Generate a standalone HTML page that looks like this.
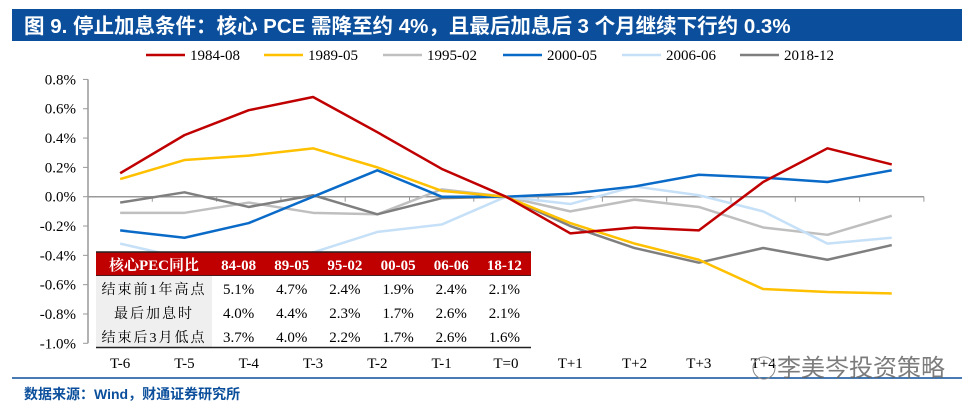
<!DOCTYPE html>
<html><head><meta charset="utf-8"><style>
body{margin:0;background:#fff;width:974px;height:411px;overflow:hidden}
svg{display:block}
</style></head><body>
<svg id="chart" width="974" height="411" font-family="'Liberation Serif','Noto Serif CJK SC',serif">
<rect x="12" y="9" width="950" height="32" fill="#0b4f9c"/>
<text x="24" y="33" fill="#fff" font-size="20.5" font-weight="bold" font-family="'Liberation Sans','Noto Sans CJK SC',sans-serif">图 9. 停止加息条件：核心 PCE 需降至约 4%，且最后加息后 3 个月继续下行约 0.3%</text>
<g id="legend"></g>
<g id="axes"></g>
<g id="series"></g>
<g id="table"></g>
<line x1="12" y1="378" x2="962" y2="378" stroke="#0b4f9c" stroke-width="1.5"/>
<text x="24" y="399" fill="#0b4f9c" font-size="14" font-weight="bold" font-family="'Liberation Sans','Noto Sans CJK SC',sans-serif">数据来源：Wind，财通证券研究所</text>
<text x="777" y="376" fill="#666" opacity="0.85" font-size="24" font-family="'Liberation Sans','Noto Sans CJK SC',sans-serif">李美岑投资策略</text>
<circle cx="764" cy="368" r="11" fill="none" stroke="#888" stroke-width="1"/>
</svg>
<script>
const categories=["T-6","T-5","T-4","T-3","T-2","T-1","T=0","T+1","T+2","T+3","T+4","T+5","T+6"];
const tickLabelsShown=["T-6","T-5","T-4","T-3","T-2","T-1","T=0","T+1","T+2","T+3","T+4"];
const yTicks=[0.8,0.6,0.4,0.2,0,-0.2,-0.4,-0.6,-0.8,-1.0];
const seriesNames=["1984-08","1989-05","1995-02","2000-05","2006-06","2018-12"];
const seriesColors=["#c00000","#ffc000","#bfbfbf","#0a6ac8","#c6e0f8","#7f7f7f"];
const s1984=[0.16,0.42,0.59,0.68,0.44,0.19,0,-0.25,-0.21,-0.23,0.10,0.33,0.22];
const s1989=[0.12,0.25,0.28,0.33,0.20,0.04,0,-0.18,-0.32,-0.43,-0.63,-0.65,-0.66];
const s1995=[-0.11,-0.11,-0.04,-0.11,-0.12,0.05,0,-0.10,-0.02,-0.07,-0.21,-0.26,-0.13];
const s2000=[-0.23,-0.28,-0.18,0.0,0.18,0,0,0.02,0.07,0.15,0.13,0.10,0.18];
const s2006=[-0.32,-0.42,-0.45,-0.38,-0.24,-0.19,0,-0.05,0.07,0.01,-0.10,-0.32,-0.28];
const s2018=[-0.04,0.03,-0.07,0.01,-0.12,-0.01,0,-0.20,-0.35,-0.45,-0.35,-0.43,-0.33];
const allSeries=[s1995,s2006,s2018,s2000,s1989,s1984];
const allOrder=[2,4,5,3,1,0];
const tableHeader=["核心PEC同比","84-08","89-05","95-02","00-05","06-06","18-12"];
const rowLabels=["结束前1年高点","最后加息时","结束后3月低点"];
const rowPeak=["5.1%","4.7%","2.4%","1.9%","2.4%","2.1%"];
const rowLast=["4.0%","4.4%","2.3%","1.7%","2.6%","2.1%"];
const rowLow=["3.7%","4.0%","2.2%","1.7%","2.6%","1.6%"];

const NS="http://www.w3.org/2000/svg";
const X0=88,SLOT=64.3,Y0=196.7,YS=146.6;
const xs=i=>X0+SLOT*(i+0.5);
const ys=v=>Y0-v*YS;
function mk(tag,attrs,parent,txt){const e=document.createElementNS(NS,tag);for(const k in attrs)e.setAttribute(k,attrs[k]);if(txt!==undefined)e.textContent=txt;parent.appendChild(e);return e;}
const axes=document.getElementById('axes');
let el=mk('line',{x1:X0,y1:ys(0.8),x2:X0,y2:ys(-1.0),stroke:'#999','stroke-width':1.5},axes);


yTicks.forEach(v=>{
  const t=mk('line',{x1:X0-5,y1:ys(v),x2:X0,y2:ys(v),stroke:'#999'},axes);
  
  
  const l=mk('text',{x:X0-12,y:ys(v)+5,'text-anchor':'end','font-size':15},axes,v.toFixed(1)+'%');
  
  
});
el=mk('line',{x1:X0,y1:Y0,x2:X0+SLOT*categories.length,y2:Y0,stroke:'#999','stroke-width':1.5},axes);


for(let i=0;i<=categories.length;i++){
  const t=mk('line',{x1:X0+SLOT*i,y1:Y0,x2:X0+SLOT*i,y2:Y0+5,stroke:'#999'},axes);
  
  
}
tickLabelsShown.forEach((c,i)=>{
  const l=mk('text',{x:xs(i),y:368,'text-anchor':'middle','font-size':15},axes,c);
  
  
});
const sg=document.getElementById('series');
allSeries.forEach((d,k)=>{
  const idx=allOrder[k];
  const p=mk('polyline',{points:d.map((v,i)=>xs(i)+','+ys(v)).join(' '),fill:'none',stroke:seriesColors[idx],'stroke-width':2.5,'stroke-linejoin':'round'},sg);
  
  
});
const lg=document.getElementById('legend');
const lx=[146,264,383,503,622,740];
seriesNames.forEach((n,i)=>{
  const l=mk('line',{x1:lx[i],y1:55,x2:lx[i]+39,y2:55,stroke:seriesColors[i],'stroke-width':2.5},lg);
  
  
  const t=mk('text',{x:lx[i]+44,y:60,'font-size':15},lg,n);
  
  
});
const tg=document.getElementById('table');
const TX=96,TW=435,C1=116,CW=(TW-C1)/6;
let r=mk('rect',{x:TX,y:252,width:TW,height:24,fill:'#c00000'},tg);


mk('line',{x1:TX,y1:252,x2:TX+TW,y2:252,stroke:'#222','stroke-width':1.5},tg);
mk('line',{x1:TX,y1:276,x2:TX+TW,y2:276,stroke:'#222','stroke-width':1.5},tg);
r=mk('rect',{x:TX,y:276,width:C1,height:71,fill:'#efefef'},tg);


r=mk('rect',{x:TX+C1,y:276,width:TW-C1,height:71,fill:'#fff'},tg);
mk('line',{x1:TX,y1:347.5,x2:TX+TW,y2:347.5,stroke:'#222','stroke-width':1.5},tg);
tableHeader.forEach((h,i)=>{
  const x=i===0?TX+C1/2:TX+C1+CW*(i-0.5);
  const t=mk('text',{x:x,y:270,'text-anchor':'middle','font-size':15,'font-weight':'bold',fill:'#fff'},tg,h);
  
  
});
[rowPeak,rowLast,rowLow].forEach((row,ri)=>{
  const y=294+ri*24;
  const t=mk('text',{x:TX+C1/2,y:y,'text-anchor':'middle','font-size':14,'letter-spacing':'2'},tg,rowLabels[ri]);
  
  
  row.forEach((v,i)=>{
    const c=mk('text',{x:TX+C1+CW*(i+0.5),y:y,'text-anchor':'middle','font-size':15},tg,v);
    
    
  });
});
</script>
</body></html>
